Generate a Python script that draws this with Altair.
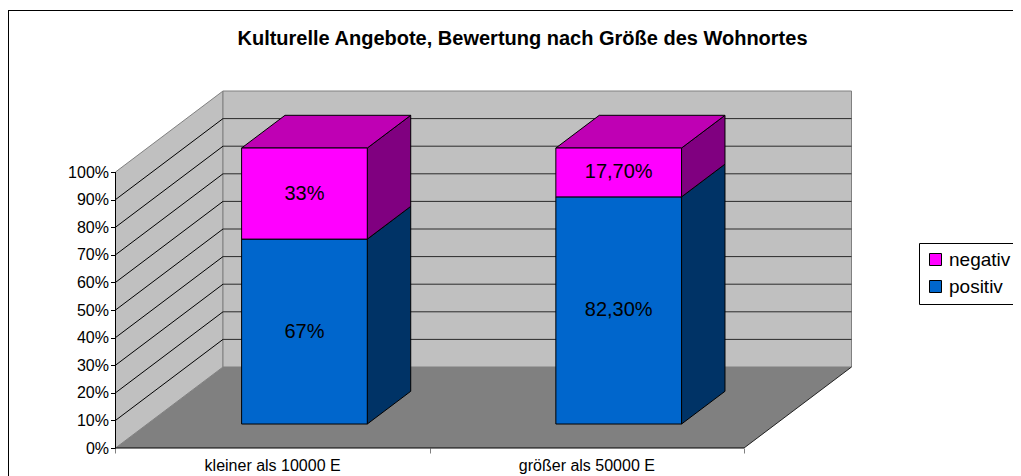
import altair as alt
import pandas as pd

TITLE = "Kulturelle Angebote, Bewertung nach Größe des Wohnortes"
categories = ["kleiner als 10000 E", "größer als 50000 E"]
series = ["negativ", "positiv"]
positiv = [67.0, 82.3]
negativ = [33.0, 17.7]
label_pos = ["67%", "82,30%"]
label_neg = ["33%", "17,70%"]
y_ticks = [0, 10, 20, 30, 40, 50, 60, 70, 80, 90, 100]
x_ticks = [0, 1, 2]

FONT = "Liberation Sans"
W, H = 1005, 468
PX_U = 314.25          # pixels per category
PX_P = 2.76            # pixels per percent
X0, Y0 = 107.5, 440    # origin of the front corner inside the chart
DX = 107.5 / PX_U      # room depth, in category units
DY = 81 / PX_P         # room depth, in percent units
BAR_W = 0.4            # bar width in categories
BAR_D0, BAR_D1 = 0.296, 0.70  # bar depth range, as a share of room depth

xs = alt.Scale(domain=[-X0 / PX_U, (W - X0) / PX_U], range=[0, W], nice=False, zero=False)
ys = alt.Scale(domain=[(Y0 - H) / PX_P, Y0 / PX_P], range=[H, 0], nice=False, zero=False)
X = lambda f="x", **k: alt.X(f"{f}:Q", scale=xs, title=None, **k)
Y = lambda f="y", **k: alt.Y(f"{f}:Q", scale=ys, title=None, **k)
GRID = "#2a2a2a"
EDGE = "#808080"


def vpoly(x0, x1, y0a, y1a, y0b, y1b, group="a"):
    return [dict(x=x0, y=y0a, y2=y1a, g=group), dict(x=x1, y=y0b, y2=y1b, g=group)]


def vface(rows, fill, stroke, sw=1):
    return alt.Chart(pd.DataFrame(rows)).mark_area(fill=fill, stroke=stroke, strokeWidth=sw).encode(
        x=X(), y=Y(), y2="y2:Q", detail="g:N")


def hface(rows, fill, stroke, sw=1):
    return alt.Chart(pd.DataFrame(rows)).mark_area(orient="horizontal", fill=fill, stroke=stroke, strokeWidth=sw).encode(
        y=Y(), x=X(), x2="x2:Q", detail="g:N")


layers = []

# frame, open towards the right and bottom edge of the window
layers.append(alt.Chart(pd.DataFrame({"a": [0]})).mark_rule(color="black", strokeWidth=1).encode(
    x=alt.value(0.5), y=alt.value(2), y2=alt.value(H)))
layers.append(alt.Chart(pd.DataFrame({"a": [0]})).mark_rule(color="black", strokeWidth=1).encode(
    y=alt.value(2.5), x=alt.value(0), x2=alt.value(W)))

# walls and floor
layers.append(vface(vpoly(0, DX, 0, 100, DY, 100 + DY), "#C0C0C0", EDGE, 1))
back = pd.DataFrame([dict(x=DX, x2=2 + DX, y=DY, y2=100 + DY)])
layers.append(alt.Chart(back).mark_rect(fill="#C0C0C0", stroke=EDGE, strokeWidth=1).encode(
    x=X(), x2="x2:Q", y=Y(), y2="y2:Q"))
layers.append(hface([dict(y=0, x=0, x2=2, g="f"), dict(y=DY, x=DX, x2=2 + DX, g="f")], "#808080", None))

# gridlines
ticks = y_ticks[1:-1]
lines = []
for t in ticks:
    lines += [dict(x=0, y=t, g=t), dict(x=DX, y=t + DY, g=t)]
layers.append(alt.Chart(pd.DataFrame(lines)).mark_line(color="black", strokeWidth=1).encode(
    x=X(), y=Y(), detail="g:N"))
layers.append(alt.Chart(pd.DataFrame([dict(x=DX, x2=2 + DX, y=t + DY) for t in ticks])).mark_rule(
    color=GRID, strokeWidth=1).encode(x=X(), x2="x2:Q", y=Y()))

# right edge of floor and front axis lines
layers.append(alt.Chart(pd.DataFrame([dict(x=2, y=0), dict(x=2 + DX, y=DY)])).mark_line(
    color="#222222", strokeWidth=1).encode(x=X(), y=Y()))

# bars
sx = BAR_D0 * DX
sy = BAR_D0 * DY
bx = (BAR_D1 - BAR_D0) * DX
by = (BAR_D1 - BAR_D0) * DY
fronts, texts = [], []
side_pos, side_neg, tops = [], [], []
for i, cat in enumerate(categories):
    left = i + 0.5 - BAR_W / 2 + sx
    right = i + 0.5 + BAR_W / 2 + sx
    p, n = positiv[i], negativ[i]
    fronts.append(dict(x=left, x2=right, y=sy, y2=sy + p, s="positiv"))
    fronts.append(dict(x=left, x2=right, y=sy + p, y2=sy + p + n, s="negativ"))
    side_pos += vpoly(right, right + bx, sy, sy + p, sy + by, sy + p + by, f"p{i}")
    side_neg += vpoly(right, right + bx, sy + p, sy + p + n, sy + p + by, sy + p + n + by, f"n{i}")
    tops += [dict(y=sy + p + n, x=left, x2=right, g=f"t{i}"),
             dict(y=sy + p + n + by, x=left + bx, x2=right + bx, g=f"t{i}")]
    mid = (left + right) / 2
    texts.append(dict(x=mid, y=sy + p / 2, t=label_pos[i]))
    texts.append(dict(x=mid, y=sy + p + n / 2, t=label_neg[i]))

layers.append(vface(side_pos, "#003366", "black"))
layers.append(vface(side_neg, "#800080", "black"))
layers.append(hface(tops, "#BF00B4", "black"))
layers.append(alt.Chart(pd.DataFrame(fronts)).mark_rect(stroke="black", strokeWidth=1).encode(
    x=X(), x2="x2:Q", y=Y(), y2="y2:Q",
    color=alt.Color("s:N", scale=alt.Scale(domain=series, range=["#FF00FF", "#0066CC"]),
                    legend=alt.Legend(orient="none", legendX=911, legendY=235, title=None,
                                      symbolType="square", symbolSize=144, symbolStrokeColor="black",
                                      symbolStrokeWidth=1, labelFont=FONT, labelFontSize=19,
                                      labelColor="black", fillColor="white", strokeColor="black",
                                      padding=7, labelLimit=200, rowPadding=7))))

# data labels
layers.append(alt.Chart(pd.DataFrame(texts)).mark_text(font=FONT, fontSize=20, color="black",
                                                        baseline="middle", align="center").encode(
    x=X(), y=Y(), text="t:N"))

# axes and category labels
axis_src = pd.DataFrame({"x": x_ticks[:2], "y": y_ticks[:2]})
layers.append(alt.Chart(axis_src).mark_point(opacity=0).encode(
    x=X(axis=alt.Axis(values=x_ticks, labels=False, domain=False, grid=False, ticks=True, tickSize=5,
                      tickColor=EDGE, offset=-(H - Y0))),
    y=Y(axis=alt.Axis(values=y_ticks, labelExpr="datum.value + '%'", domain=False, grid=False,
                      ticks=True, tickSize=5, tickColor="black", labelColor="black", labelFont=FONT,
                      labelFontSize=16, labelPadding=2, offset=-X0))))
layers.append(alt.Chart(pd.DataFrame([dict(x=0, x2=2, y=0)])).mark_rule(color="black", strokeWidth=1).encode(
    x=X(), x2="x2:Q", y=Y()))
layers.append(alt.Chart(pd.DataFrame([dict(x=0, y=0, y2=100)])).mark_rule(color="black", strokeWidth=1).encode(
    x=X(), y=Y(), y2="y2:Q"))
layers.append(alt.Chart(pd.DataFrame({"x": [0.5, 1.5], "y": [-6.5, -6.5], "t": categories})).mark_text(
    font=FONT, fontSize=16, color="black", baseline="middle", align="center").encode(
    x=X(), y=Y(), text="t:N"))

chart = alt.layer(*layers).properties(
    width=W, height=H, padding=0,
    autosize=alt.AutoSizeParams(type="none"),
    background="white",
    title=alt.TitleParams(TITLE, anchor="middle", frame="group", font=FONT, fontSize=20, fontWeight="bold",
                          color="black", offset=-57, baseline="alphabetic", dx=12),
).configure_view(stroke=None)

chart.save("out.html", embed_options={"renderer": "svg", "actions": False})
